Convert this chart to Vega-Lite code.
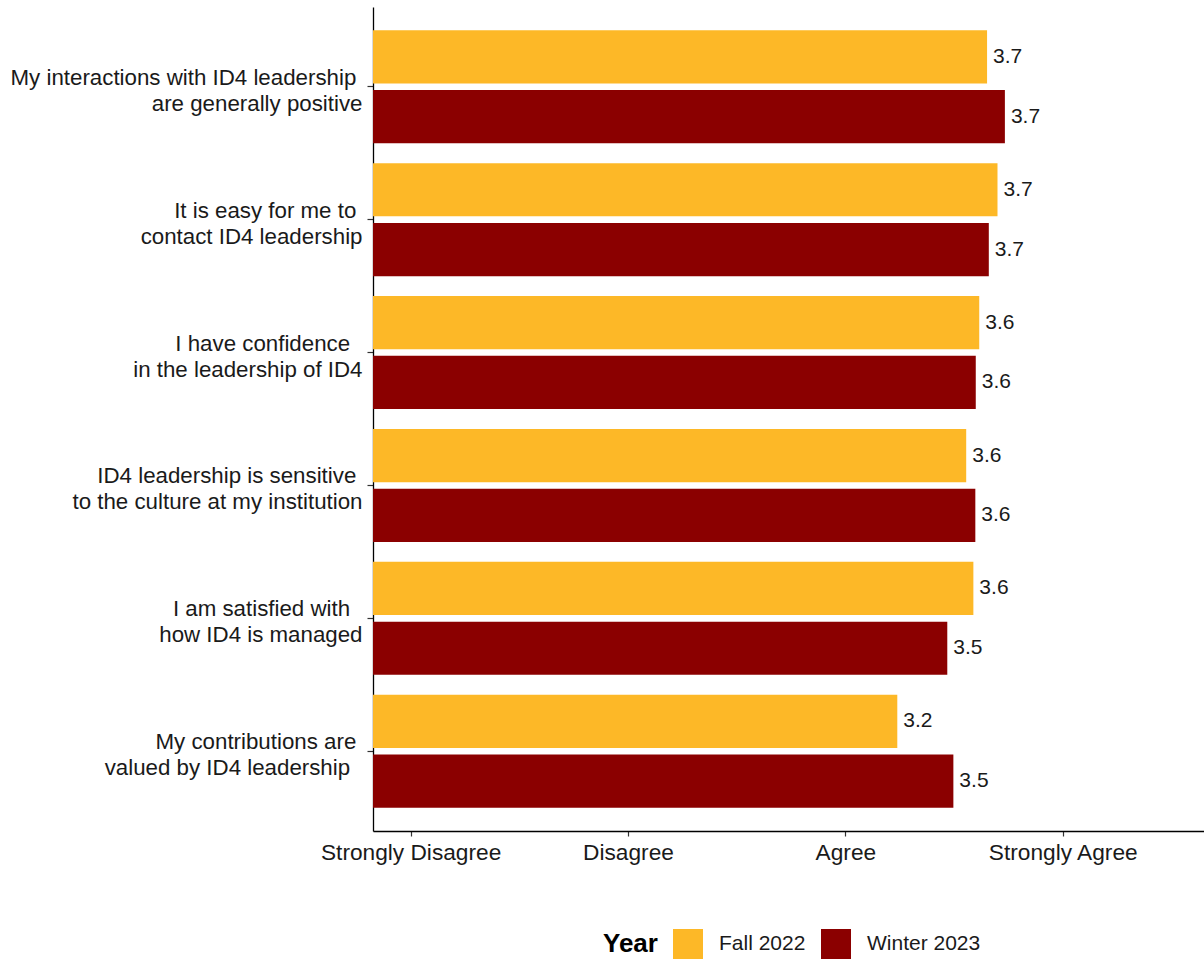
{
  "$schema": "https://vega.github.io/schema/vega-lite/v6.json",
  "autosize": "none",
  "padding": {"left": 373, "top": 7, "right": 0, "bottom": 128},
  "width": 831,
  "height": 824,
  "background": "white",
  "config": {"view": {"stroke": null}, "font": "Liberation Sans"},
  "data": {
    "values": [
      {"item": "My interactions with ID4 leadership\u00a0\u200b|are generally positive", "year": "Fall 2022", "value": 3.652},
      {"item": "My interactions with ID4 leadership\u00a0\u200b|are generally positive", "year": "Winter 2023", "value": 3.734},
      {"item": "It is easy for me to\u00a0\u200b|contact ID4 leadership", "year": "Fall 2022", "value": 3.70},
      {"item": "It is easy for me to\u00a0\u200b|contact ID4 leadership", "year": "Winter 2023", "value": 3.66},
      {"item": "I have confidence\u00a0\u00a0\u200b|in the leadership of ID4", "year": "Fall 2022", "value": 3.616},
      {"item": "I have confidence\u00a0\u00a0\u200b|in the leadership of ID4", "year": "Winter 2023", "value": 3.60},
      {"item": "ID4 leadership is sensitive\u00a0\u200b|to the culture at my institution", "year": "Fall 2022", "value": 3.556},
      {"item": "ID4 leadership is sensitive\u00a0\u200b|to the culture at my institution", "year": "Winter 2023", "value": 3.598},
      {"item": "I am satisfied with\u00a0\u00a0\u200b|how ID4 is managed", "year": "Fall 2022", "value": 3.589},
      {"item": "I am satisfied with\u00a0\u00a0\u200b|how ID4 is managed", "year": "Winter 2023", "value": 3.469},
      {"item": "My contributions are\u00a0\u200b|valued by ID4 leadership\u00a0\u00a0\u200b", "year": "Fall 2022", "value": 3.239},
      {"item": "My contributions are\u00a0\u200b|valued by ID4 leadership\u00a0\u00a0\u200b", "year": "Winter 2023", "value": 3.497}
    ]
  },
  "encoding": {
    "y": {
      "field": "item",
      "type": "nominal",
      "sort": [
        "My interactions with ID4 leadership\u00a0\u200b|are generally positive",
        "It is easy for me to\u00a0\u200b|contact ID4 leadership",
        "I have confidence\u00a0\u00a0\u200b|in the leadership of ID4",
        "ID4 leadership is sensitive\u00a0\u200b|to the culture at my institution",
        "I am satisfied with\u00a0\u00a0\u200b|how ID4 is managed",
        "My contributions are\u00a0\u200b|valued by ID4 leadership\u00a0\u00a0\u200b"
      ],
      "scale": {"paddingInner": 0.15, "paddingOuter": 0.175},
      "axis": {
        "title": null,
        "labelExpr": "split(datum.label, '|')",
        "labelFontSize": 22.3,
        "labelColor": "#1a1a1a",
        "labelLineHeight": 26,
        "labelLimit": 500,
        "labelPadding": 5,
        "labelOffset": -9,
        "tickSize": 6,
        "tickColor": "#333333",
        "tickWidth": 1.2,
        "domainColor": "#000000",
        "domainWidth": 1.3,
        "grid": false
      }
    },
    "yOffset": {
      "field": "year",
      "type": "nominal",
      "sort": ["Fall 2022", "Winter 2023"],
      "scale": {"paddingInner": 0.111, "paddingOuter": 0}
    },
    "x": {
      "field": "value",
      "type": "quantitative",
      "scale": {"domain": [0.827, 4.65], "zero": false, "nice": false},
      "axis": {
        "title": null,
        "values": [1, 2, 3, 4],
        "labelExpr": "['', 'Strongly Disagree', 'Disagree', 'Agree', 'Strongly Agree'][datum.value]",
        "labelFontSize": 22.7,
        "labelColor": "#1a1a1a",
        "labelLimit": 400,
        "labelPadding": 5,
        "labelFlush": false,
        "labelOverlap": false,
        "tickSize": 5,
        "tickColor": "#333333",
        "tickWidth": 1.2,
        "domainColor": "#000000",
        "domainWidth": 1.3,
        "grid": false
      }
    }
  },
  "layer": [
    {
      "mark": {"type": "bar", "clip": true},
      "encoding": {
        "color": {
          "field": "year",
          "type": "nominal",
          "scale": {"domain": ["Fall 2022", "Winter 2023"], "range": ["#FDB827", "#8B0000"]},
          "legend": {
            "orient": "none",
            "legendX": 230,
            "legendY": 922,
            "direction": "horizontal",
            "title": "Year",
            "titleOrient": "left",
            "titleFontSize": 26,
            "titleFontWeight": "bold",
            "titleColor": "#000000",
            "titlePadding": 15,
            "labelFontSize": 21,
            "labelColor": "#1a1a1a",
            "labelOffset": 16,
            "columnPadding": 15,
            "symbolType": "square",
            "symbolSize": 900,
            "symbolStrokeWidth": 0
          }
        }
      }
    },
    {
      "mark": {"type": "text", "align": "left", "baseline": "middle", "dx": 6, "fontSize": 21, "color": "#1a1a1a"},
      "encoding": {"text": {"field": "value", "type": "quantitative", "format": ".1f"}}
    }
  ]
}
